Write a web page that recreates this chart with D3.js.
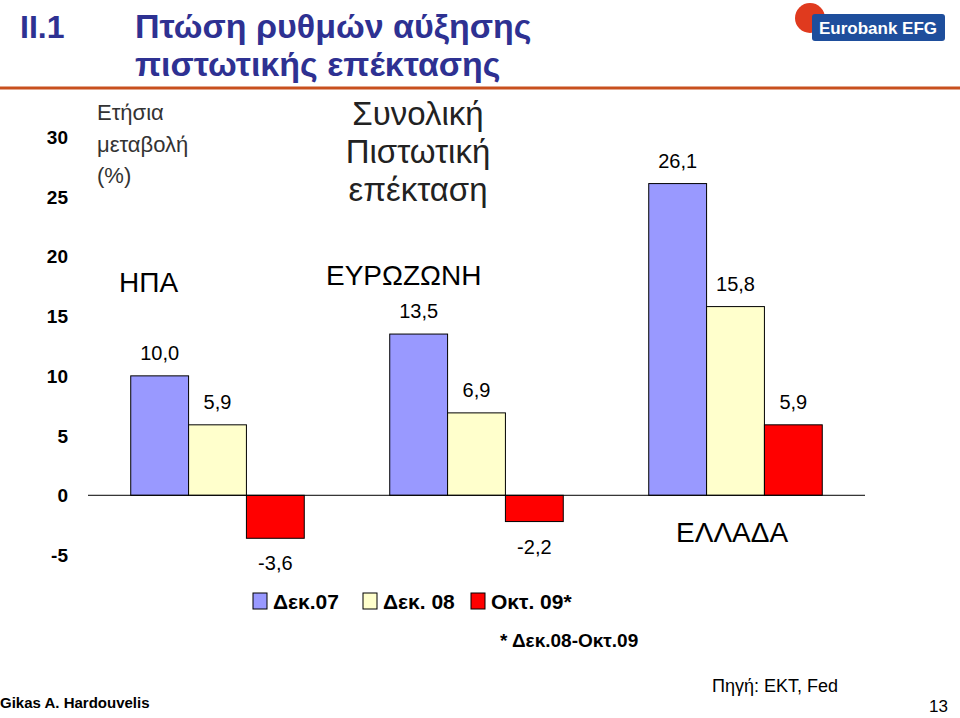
<!DOCTYPE html>
<html><head><meta charset="utf-8">
<script src="https://cdn.jsdelivr.net/npm/d3@7"></script>
<style>body{margin:0;background:#fff}text{font-family:Arial,"Liberation Sans",sans-serif}</style>
</head><body><svg id="c" width="960" height="718"></svg>
<script>
const regions = ['ΗΠΑ', 'ΕΥΡΩΖΩΝΗ', 'ΕΛΛΑΔΑ'];
const series = ['Δεκ.07', 'Δεκ. 08', 'Οκτ. 09*'];
const values = [[10.0, 5.9, -3.6], [13.5, 6.9, -2.2], [26.1, 15.8, 5.9]];
const colors = ['#9999ff', '#ffffcc', '#ff0000'];
const ticks = [-5, 0, 5, 10, 15, 20, 25, 30];

const svg = d3.select('#c');
const y = d3.scaleLinear().domain([-5, 30]).range([555, 137]);
const x0 = d3.scaleBand().domain(regions).range([88, 865]).paddingInner(0.33).paddingOuter(0.165);
const x1 = d3.scaleBand().domain(series).range([0, x0.bandwidth()]);
const fmt = v => v.toFixed(1).replace('.', ',');

// title
svg.append('text').attr('x', 20).attr('y', 38).attr('fill', '#2e3192')
  .attr('font-family', 'Verdana, DejaVu Sans').attr('font-weight', 'bold').attr('font-size', 32).text('II.1');
svg.append('text').attr('x', 135).attr('y', 38).attr('fill', '#2e3192').attr('font-weight', 'bold')
  .attr('font-family', 'DejaVu Sans Condensed, DejaVu Sans').attr('font-size', 34).text('Πτώση ρυθμών αύξησης');
svg.append('text').attr('x', 135).attr('y', 76).attr('fill', '#2e3192').attr('font-weight', 'bold')
  .attr('font-family', 'DejaVu Sans Condensed, DejaVu Sans').attr('font-size', 34).text('πιστωτικής επέκτασης');
svg.append('line').attr('x1', 0).attr('x2', 960).attr('y1', 88).attr('y2', 88).attr('stroke', '#c8501e').attr('stroke-width', 3);

// logo
svg.append('circle').attr('cx', 810).attr('cy', 18).attr('r', 15).attr('fill', '#e03a1e');
svg.append('rect').attr('x', 812).attr('y', 14).attr('width', 133).attr('height', 27).attr('rx', 3).attr('fill', '#1e4e9c');
svg.append('text').attr('x', 878).attr('y', 34).attr('text-anchor', 'middle').attr('fill', '#fff').attr('font-weight', 'bold')
  .attr('font-family', 'DejaVu Sans Condensed, DejaVu Sans').attr('font-size', 17).text('Eurobank EFG');

// y axis labels
svg.append('g').selectAll('text').data(ticks).join('text')
  .attr('x', 68).attr('y', d => y(d) + 7).attr('text-anchor', 'end')
  .attr('font-size', 19).attr('font-weight', 'bold').text(d => d);

// bars
const g = svg.append('g').selectAll('g').data(regions).join('g')
  .attr('transform', d => `translate(${x0(d)},0)`);
g.selectAll('rect').data((d, i) => values[i].map((v, j) => ({v, j}))).join('rect')
  .attr('x', d => x1(series[d.j])).attr('width', x1.bandwidth())
  .attr('y', d => y(Math.max(0, d.v))).attr('height', d => Math.abs(y(d.v) - y(0)))
  .attr('fill', d => colors[d.j]).attr('stroke', '#000').attr('stroke-width', 1);
g.selectAll('text').data((d, i) => values[i].map((v, j) => ({v, j}))).join('text')
  .attr('x', d => x1(series[d.j]) + x1.bandwidth() / 2)
  .attr('y', d => d.v >= 0 ? y(d.v) - 16 : y(d.v) + 32)
  .attr('text-anchor', 'middle').attr('font-size', 20).text(d => fmt(d.v));

svg.append('line').attr('x1', 88).attr('x2', 865).attr('y1', y(0)).attr('y2', y(0)).attr('stroke', '#000');

// annotations
svg.append('text').attr('x', 97).attr('y', 120).attr('font-size', 22).attr('fill', '#333').text('Ετήσια');
svg.append('text').attr('x', 97).attr('y', 152).attr('font-size', 22).attr('fill', '#333').text('μεταβολή');
svg.append('text').attr('x', 97).attr('y', 183).attr('font-size', 22).attr('fill', '#333').text('(%)');
[['Συνολική', 125], ['Πιστωτική', 163], ['επέκταση', 201]].forEach(([t, yy]) =>
  svg.append('text').attr('x', 418).attr('y', yy).attr('text-anchor', 'middle').attr('font-size', 33)
    .attr('font-family', 'DejaVu Sans, Verdana').attr('fill', '#222').text(t));
svg.append('text').attr('x', 119).attr('y', 292).attr('font-size', 28).text(regions[0]);
svg.append('text').attr('x', 326).attr('y', 285).attr('font-size', 28).text(regions[1]);
svg.append('text').attr('x', 676).attr('y', 542).attr('font-size', 28).text(regions[2]);

// legend
const lg = svg.append('g').attr('transform', 'translate(253,593)');
const lx = [0, 110, 218];
series.forEach((s, i) => {
  lg.append('rect').attr('x', lx[i]).attr('y', 0).attr('width', 14).attr('height', 16)
    .attr('fill', colors[i]).attr('stroke', '#000');
  lg.append('text').attr('x', lx[i] + 20).attr('y', 16).attr('font-size', 21).attr('font-weight', 'bold').text(s);
});
svg.append('text').attr('x', 500).attr('y', 647).attr('font-size', 19).attr('font-weight', 'bold').text('* Δεκ.08-Οκτ.09');
svg.append('text').attr('x', 712).attr('y', 692).attr('font-size', 18).text('Πηγή: ΕΚΤ, Fed');
svg.append('text').attr('x', 0).attr('y', 708).attr('font-size', 15).attr('font-weight', 'bold').text('Gikas A. Hardouvelis');
svg.append('text').attr('x', 948).attr('y', 712).attr('text-anchor', 'end').attr('font-size', 17).text('13');
</script></body></html>
